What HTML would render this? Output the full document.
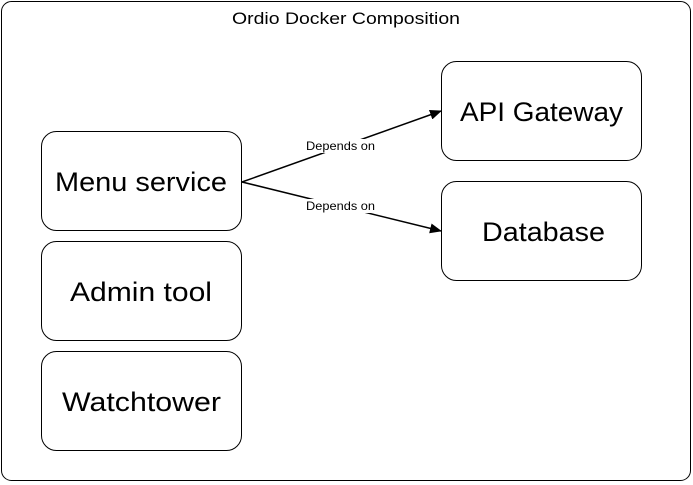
<!DOCTYPE html>
<html><head><meta charset="utf-8"><style>
html,body{margin:0;padding:0;background:#fff;}
body{width:693px;height:485px;position:relative;overflow:hidden;font-family:"Liberation Sans",sans-serif;}
</style></head><body>
<svg width="693" height="485" xmlns="http://www.w3.org/2000/svg" style="position:absolute;left:0;top:0">
<defs><marker id="a" markerWidth="12" markerHeight="10" refX="11" refY="5" orient="auto" markerUnits="userSpaceOnUse"><path d="M0,0 L12,5 L0,10 Z" fill="#000"/></marker></defs>
<rect x="1.5" y="1.5" width="689" height="479" rx="10" fill="#fff" stroke="#000" stroke-width="1"/>
<text x="232" y="24" font-size="17" textLength="228" lengthAdjust="spacingAndGlyphs" font-family="Liberation Sans">Ordio Docker Composition</text>
<g fill="#fff" stroke="#000" stroke-width="1">
<rect x="41.5" y="131.5" width="200" height="99" rx="15"/>
<rect x="41.5" y="241.5" width="200" height="99" rx="15"/>
<rect x="41.5" y="351.5" width="200" height="99" rx="15"/>
<rect x="441.5" y="61.5" width="200" height="99" rx="15"/>
<rect x="441.5" y="181.5" width="200" height="99" rx="15"/>
</g>
<g font-size="27" font-family="Liberation Sans" lengthAdjust="spacingAndGlyphs">
<text x="55" y="191" textLength="172" lengthAdjust="spacingAndGlyphs">Menu service</text>
<text x="70" y="301" textLength="142" lengthAdjust="spacingAndGlyphs">Admin tool</text>
<text x="62" y="411" textLength="159" lengthAdjust="spacingAndGlyphs">Watchtower</text>
<text x="460" y="121" textLength="163" lengthAdjust="spacingAndGlyphs">API Gateway</text>
<text x="482" y="241" textLength="123" lengthAdjust="spacingAndGlyphs">Database</text>
</g>
<line x1="242" y1="182" x2="441" y2="111" stroke="#000" stroke-width="1.5" marker-end="url(#a)"/>
<line x1="242" y1="182" x2="441" y2="231" stroke="#000" stroke-width="1.5" marker-end="url(#a)"/>
<rect x="304" y="139" width="73" height="14" fill="#fff"/>
<rect x="304" y="199" width="73" height="14" fill="#fff"/>
<text x="306" y="150" font-size="12" textLength="69" lengthAdjust="spacingAndGlyphs">Depends on</text>
<text x="306" y="210" font-size="12" textLength="69" lengthAdjust="spacingAndGlyphs">Depends on</text>
</svg>
</body></html>
